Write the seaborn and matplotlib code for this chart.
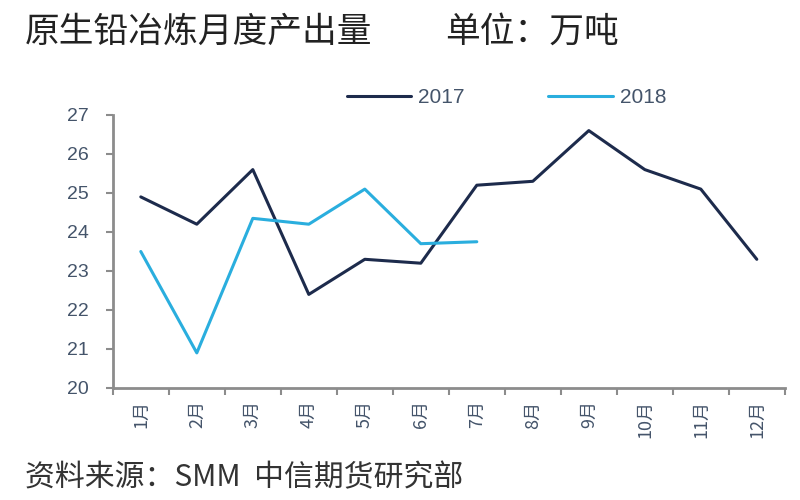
import numpy as np
import pandas as pd
import matplotlib
matplotlib.use("Agg")
import matplotlib.pyplot as plt
import seaborn as sns

# data (万吨)
months = ["1月", "2月", "3月", "4月", "5月", "6月", "7月", "8月", "9月", "10月", "11月", "12月"]
output_2017 = [24.9, 24.2, 25.6, 22.4, 23.3, 23.2, 25.2, 25.3, 26.6, 25.6, 25.1, 23.3]
output_2018 = [23.5, 20.9, 24.35, 24.2, 25.1, 23.7, 23.75]
yticks = [20, 21, 22, 23, 24, 25, 26, 27]

df = pd.concat([
    pd.DataFrame({"month": months, "value": output_2017, "year": "2017"}),
    pd.DataFrame({"month": months[:len(output_2018)], "value": output_2018, "year": "2018"}),
])
df["pos"] = df["month"].map({m: i for i, m in enumerate(months)})

sns.set_style("white")
plt.rcParams["font.family"] = ["Noto Sans CJK SC", "DejaVu Sans"]
num_font = ["Liberation Sans", "DejaVu Sans"]

fig = plt.figure(figsize=(8, 5), dpi=100)
ax = fig.add_axes([0.141, 0.224, 0.84, 0.546])

palette = {"2017": "#1d2b4c", "2018": "#2aaede"}
sns.lineplot(data=df, x="pos", y="value", hue="year", palette=palette,
             linewidth=2.2, ax=ax, sort=False)

ax.set_xlim(-0.5, 11.5)
ax.set_ylim(20, 27)
ax.set_yticks(yticks)
ax.set_yticklabels([str(t) for t in yticks], fontsize=14, color="#44546a", family=num_font)
ax.set_xticks(range(len(months)))
ax.set_xticklabels(months, rotation=90, fontsize=13, color="#44546a")
ax.set_xticks(np.arange(-0.5, len(months)), minor=True)
ax.tick_params(axis="x", which="major", length=0, pad=9)
ax.tick_params(axis="x", which="minor", length=5, width=1.5, color="#8c8c8c", bottom=True)
ax.tick_params(axis="y", length=5, width=1.5, color="#8c8c8c", left=True, pad=12)
ax.set_xlabel("")
ax.set_ylabel("")

for side in ["top", "right"]:
    ax.spines[side].set_visible(False)
for side in ["left", "bottom"]:
    ax.spines[side].set_color("#8c8c8c")
    ax.spines[side].set_linewidth(2)

ax.legend(loc="lower left", bbox_to_anchor=(0.32, 0.96), ncol=2, frameon=False,
          prop={"family": num_font, "size": 15}, handlelength=3.1, columnspacing=4.0,
          handletextpad=0.35, labelcolor="#44546a")

fig.text(0.031, 0.935, "原生铅冶炼月度产出量", fontsize=25, color="#222222", va="center")
fig.text(0.556, 0.935, "单位：万吨", fontsize=25, color="#222222", va="center")
fig.text(0.031, 0.044, "资料来源：SMM  中信期货研究部", fontsize=21.5, color="#333333", va="center")

fig.savefig("out.png", dpi=100)
